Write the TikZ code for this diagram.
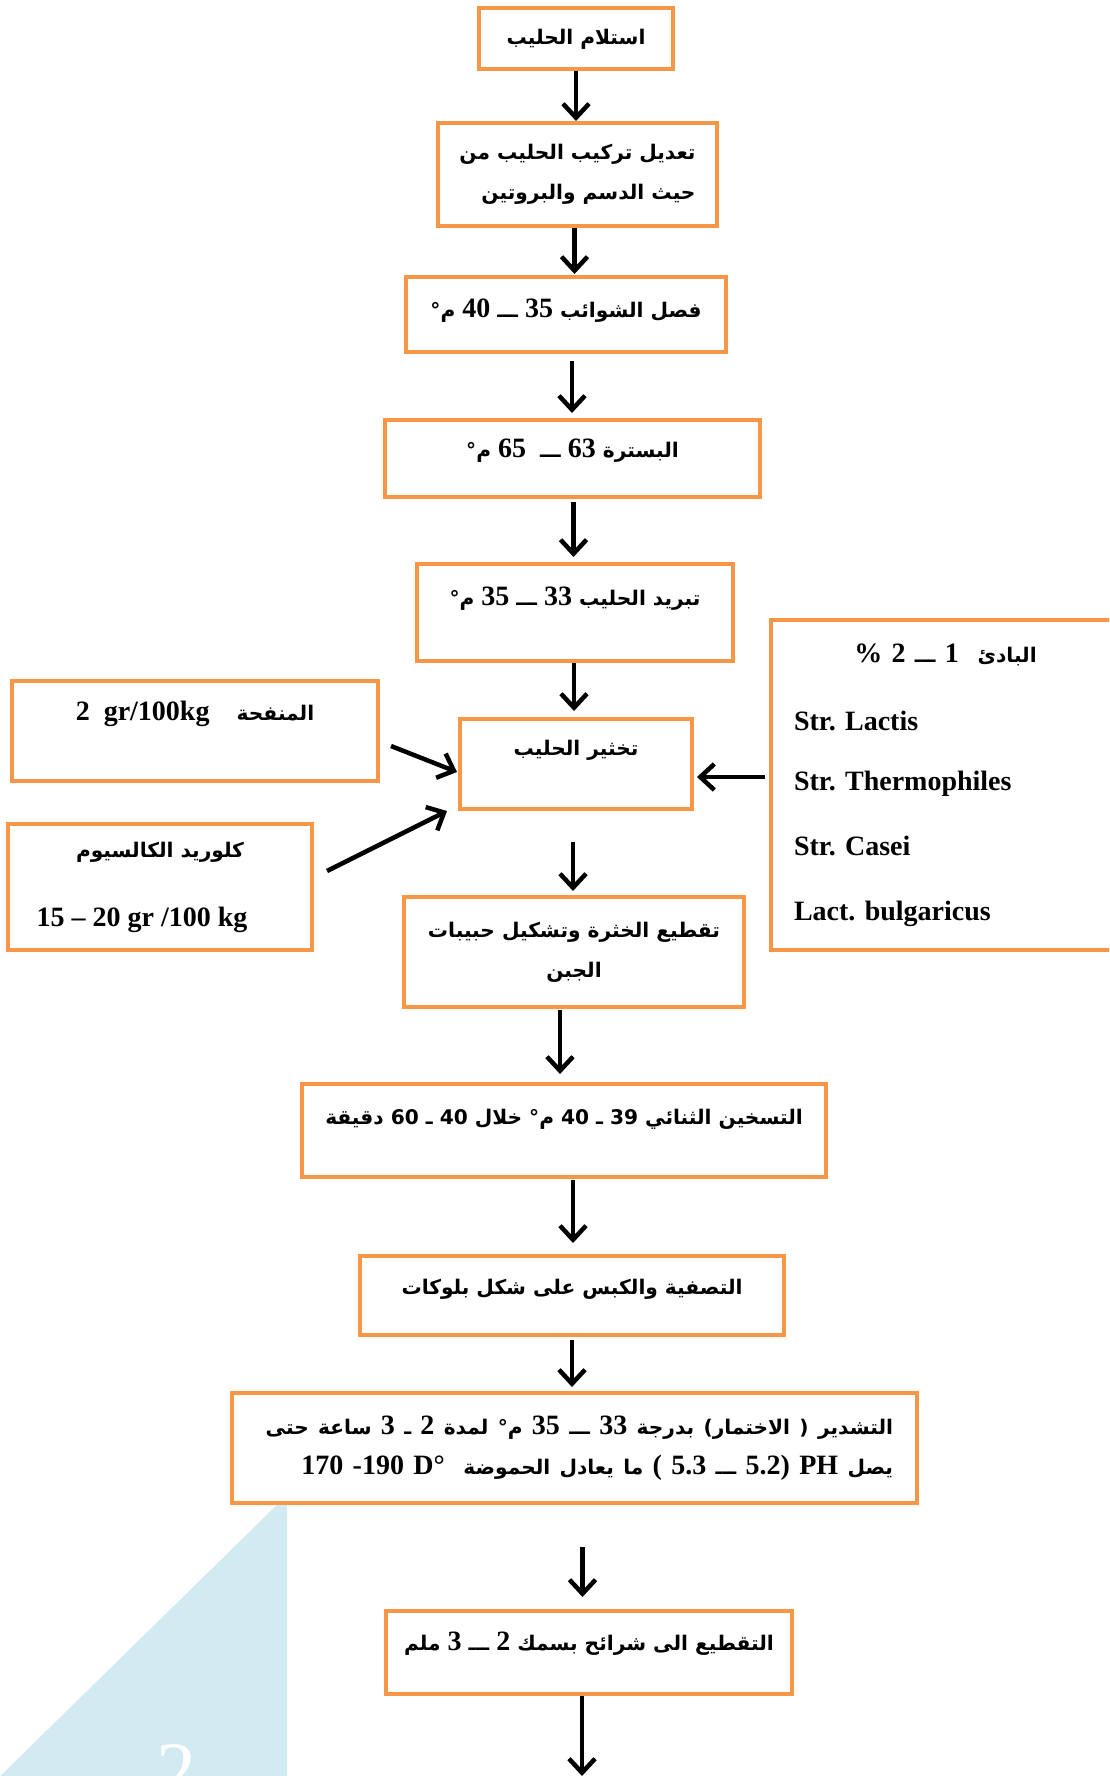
\documentclass[tikz,border=0pt]{standalone}
\usepackage{fontspec}
\setmainfont{Liberation Serif}
\newfontfamily\arabicfont[Script=Arabic,Scale=0.72]{DejaVu Sans}
\TeXXeTstate=1
\usetikzlibrary{arrows.meta,calc}
\definecolor{boxorange}{RGB}{247,150,70}
\definecolor{cornerblue}{RGB}{210,234,241}
\newcommand\arline[1]{{\arabicfont\beginR #1\endR}}
\newcommand\lat[1]{\beginL{\rmfamily #1}\endL}

\begin{document}
\begin{tikzpicture}[x=1pt,y=-1pt,
  stepbox/.style={draw=boxorange, line width=4pt, fill=white, inner xsep=8pt, inner ysep=0pt,
    anchor=north west, font=\fontsize{28}{40}\selectfont\bfseries},
  flow/.style={line width=4.5pt, -{Straight Barb[length=14pt,width=26pt]}}
]
\clip (0,0) rectangle (1109,1776);

% corner of the page
\fill[cornerblue] (287,1495) -- (287,1790) -- (-14,1790) -- cycle;
\node[text=white, font=\fontsize{80}{80}\selectfont, anchor=base] (pagenum) at (176,1797) {2};

% main line
\node[stepbox, minimum width=194pt, text height=37pt, text depth=24pt] (recv) at (477,6)
  {\arline{استلام الحليب}};
\node[stepbox, minimum width=279pt, minimum height=103pt, align=right] (adjust) at (436,121)
  {\arline{تعديل تركيب الحليب من}\\\arline{حيث الدسم والبروتين}};
\node[stepbox, minimum width=320pt, text height=40pt, text depth=35pt] (sep) at (404,275)
  {\arline{فصل الشوائب \lat{35} ـــ \lat{40} م°}};
\node[stepbox, minimum width=375pt, text height=37pt, text depth=40pt] (past) at (383,418)
  {\arline{البسترة \lat{63} ـــ\ \ \lat{65} م°}};
\node[stepbox, minimum width=316pt, text height=41pt, text depth=56pt] (cool) at (415,562)
  {\arline{تبريد الحليب \lat{33} ـــ \lat{35} م°}};
\node[stepbox, minimum width=232pt, text height=36pt, text depth=54pt] (curd) at (458,717)
  {\arline{تخثير الحليب}};
\node[stepbox, minimum width=340pt, minimum height=110pt, align=center] (cut) at (402,895)
  {\arline{تقطيع الخثرة وتشكيل حبيبات}\\\arline{الجبن}};
\node[stepbox, minimum width=524pt, text height=40pt, text depth=53pt] (heat) at (300,1082)
  {\arline{التسخين الثنائي 39 ـ 40 م° خلال 40 ـ 60 دقيقة}};
\node[stepbox, minimum width=424pt, text height=38pt, text depth=41pt] (drain) at (358,1254)
  {\arline{التصفية والكبس على شكل بلوكات}};
\node[stepbox, text width=637pt, inner xsep=24pt, minimum height=110pt, align=right] (ferment) at (230,1391)
  {\arline{التشدير ( الاختمار) بدرجة \lat{33} ـــ \lat{35} م° لمدة \lat{2} ـ \lat{3} ساعة حتى}\\
   \arline{يصل \lat{PH} \lat{( 5.3 {\arabicfont ـــ} 5.2)} ما يعادل الحموضة\ \ \lat{170 -190 D°}}};
\node[stepbox, minimum width=406pt, text height=39pt, text depth=44pt] (slice) at (384,1609)
  {\arline{التقطيع الى شرائح بسمك \lat{2} ـــ \lat{3} ملم}};

% side inputs
\node[stepbox, minimum width=366pt, text height=39pt, text depth=61pt] (rennet) at (10,679)
  {\arline{المنفحة\quad\ \lat{2\ \ gr/100kg}}};
\node[stepbox, minimum width=304pt, minimum height=126pt, align=center] (calc) at (6,822)
  {\arline{كلوريد الكالسيوم}\\[29pt]15 – 20 gr /100 kg\hspace*{36pt}};
\node[stepbox, text width=303pt, inner xsep=23pt, minimum height=330pt, align=left] (starter) at (769,618)
  {\makebox[303pt]{\arline{البادئ\ \ \lat{1} ـــ \lat{2} \lat{\%}}}\\[28pt]
   Str.\ Lactis\\[20pt]
   Str.\ Thermophiles\\[25pt]
   Str.\ Casei\\[25pt]
   Lact.\ bulgaricus};

\coordinate (out) at (582,1776);

% connectors
\draw[flow] (recv.south) -- (recv.south |- adjust.north);
\draw[flow] ($(adjust.south)+(-3,0)$) -- ($(adjust.south |- sep.north)+(-3,-1)$);
\draw[flow] ($(sep.south)+(6,7)$) -- ($(sep.south |- past.north)+(6,-5)$);
\draw[flow] ($(past.south)+(1,3)$) -- ($(past.south |- cool.north)+(1,-5)$);
\draw[flow] ($(cool.south)+(-1,0)$) -- ($(cool.south |- curd.north)+(-1,-6)$);
\draw[flow] ($(rennet.east)+(11,15)$) -- ($(curd.west)+(-1,8)$);
\draw[flow] ($(calc.east)+(13,-16)$) -- ($(curd.south west)+(-11,0)$);
\draw[flow] ($(starter.west)+(-4,-8)$) -- ($(curd.east)+(3,13)$);
\draw[flow] ($(curd.south)+(-3,31)$) -- ($(curd.south |- cut.north)+(-3,-4)$);
\draw[flow] ($(cut.south)+(-14,1)$) -- ($(cut.south |- heat.north)+(-14,-8)$);
\draw[flow] ($(heat.south)+(9,1)$) -- ($(heat.south |- drain.north)+(9,-11)$);
\draw[flow] ($(drain.south)+(0,3)$) -- ($(drain.south |- ferment.north)+(0,-4)$);
\draw[flow] ($(ferment.south)+(8,42)$) -- ($(ferment.south |- slice.north)+(8,-12)$);
\draw[flow] (out |- slice.south) -- (out);
\end{tikzpicture}
\end{document}
